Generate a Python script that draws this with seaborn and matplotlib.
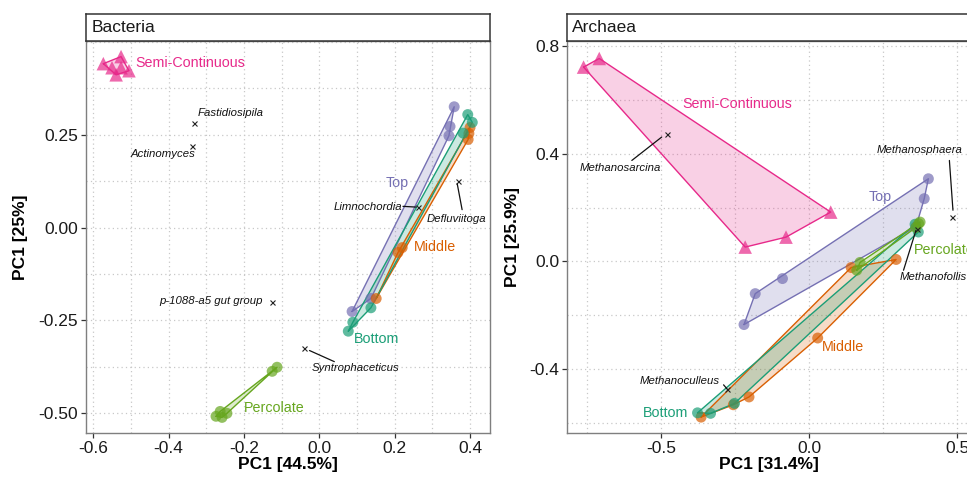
import numpy as np
import pandas as pd
import matplotlib
matplotlib.use("Agg")
import matplotlib.pyplot as plt
import seaborn as sns

# ---------------- data ----------------
groups = ["Semi-Continuous", "Top", "Middle", "Bottom", "Percolate"]
colors = {"Semi-Continuous": "#E7298A", "Top": "#7570B3", "Middle": "#D95F02",
          "Bottom": "#1B9E77", "Percolate": "#66A61E"}

# Bacteria
bac_semi_x = [-0.573, -0.526, -0.539, -0.505, -0.550, -0.526]
bac_semi_y = [0.441, 0.460, 0.411, 0.422, 0.430, 0.430]
bac_top_x = [0.358, 0.347, 0.344, 0.087, 0.137]
bac_top_y = [0.325, 0.272, 0.247, -0.226, -0.191]
bac_middle_x = [0.400, 0.397, 0.395, 0.209, 0.220, 0.151]
bac_middle_y = [0.269, 0.253, 0.237, -0.067, -0.054, -0.191]
bac_bottom_x = [0.394, 0.406, 0.382, 0.077, 0.089, 0.137]
bac_bottom_y = [0.304, 0.283, 0.254, -0.279, -0.255, -0.216]
bac_perc_x = [-0.112, -0.125, -0.263, -0.274, -0.245, -0.258]
bac_perc_y = [-0.376, -0.387, -0.495, -0.508, -0.500, -0.511]

bac_species = ["Fastidiosipila", "Actinomyces", "Limnochordia", "Defluviitoga",
               "p-1088-a5 gut group", "Syntrophaceticus"]
bac_sp_x = [-0.332, -0.337, 0.263, 0.367, -0.126, -0.040]
bac_sp_y = [0.282, 0.220, 0.055, 0.124, -0.201, -0.323]

# Archaea
arc_semi_x = [-0.762, -0.709, 0.073, -0.078, -0.216]
arc_semi_y = [0.722, 0.754, 0.183, 0.090, 0.053]
arc_top_x = [0.403, 0.389, 0.361, -0.090, -0.182, -0.220]
arc_top_y = [0.307, 0.233, 0.128, -0.064, -0.120, -0.235]
arc_middle_x = [0.294, 0.142, 0.029, -0.203, -0.256, -0.365]
arc_middle_y = [0.007, -0.023, -0.285, -0.504, -0.533, -0.579]
arc_bottom_x = [0.369, 0.358, -0.377, -0.333, -0.252]
arc_bottom_y = [0.109, 0.138, -0.563, -0.565, -0.528]
arc_perc_x = [0.375, 0.361, 0.370, 0.172, 0.161]
arc_perc_y = [0.146, 0.126, 0.140, -0.004, -0.033]

arc_species = ["Methanosarcina", "Methanosphaera", "Methanofollis", "Methanoculleus"]
arc_sp_x = [-0.481, 0.484, 0.364, -0.276]
arc_sp_y = [0.475, 0.165, 0.122, -0.476]

# ---------------- layout (label placement) ----------------
bac_group_lab = {"Semi-Continuous": (-0.489, 0.444, "left"), "Top": (0.208, 0.120, "center"),
                 "Middle": (0.307, -0.052, "center"), "Bottom": (0.151, -0.299, "center"),
                 "Percolate": (-0.120, -0.485, "center")}
arc_group_lab = {"Semi-Continuous": (-0.244, 0.583, "center"), "Top": (0.240, 0.239, "center"),
                 "Middle": (0.116, -0.319, "center"), "Bottom": (-0.486, -0.564, "center"),
                 "Percolate": (0.353, 0.041, "left")}
bac_sp_lab = [(-0.324, 0.309, "left"), (-0.329, 0.199, "right"), (0.219, 0.056, "right"),
              (0.364, 0.024, "center"), (-0.149, -0.199, "right"), (-0.020, -0.379, "left")]
bac_sp_seg = [None, None, ((0.222, 0.257), (0.057, 0.055)), ((0.366, 0.379), (0.118, 0.048)),
              None, ((-0.026, 0.040), (-0.331, -0.361))]
arc_sp_lab = [(-0.639, 0.347, "center"), (0.375, 0.413, "center"), (0.307, -0.058, "left"),
              (-0.301, -0.446, "right")]
arc_sp_seg = [((-0.498, -0.599), (0.462, 0.375)), ((0.474, 0.486), (0.375, 0.190)),
              ((0.361, 0.319), (0.115, -0.033)), ((-0.289, -0.278), (-0.459, -0.473))]

# ---------------- style ----------------
sns.set_theme(style="white")
plt.rcParams["font.family"] = ["Liberation Sans", "DejaVu Sans"]

W, H = 967, 478
fig = plt.figure(figsize=(W / 100, H / 100), dpi=100)


def hull(pts):
    pts = sorted(set(map(tuple, pts)))
    if len(pts) < 3:
        return pts

    def cross(o, a, b):
        return (a[0] - o[0]) * (b[1] - o[1]) - (a[1] - o[1]) * (b[0] - o[0])
    lower, upper = [], []
    for p in pts:
        while len(lower) >= 2 and cross(lower[-2], lower[-1], p) <= 0:
            lower.pop()
        lower.append(p)
    for p in reversed(pts):
        while len(upper) >= 2 and cross(upper[-2], upper[-1], p) <= 0:
            upper.pop()
        upper.append(p)
    return lower[:-1] + upper[:-1]


def px_axes(x0, x1, y0, y1):
    return [x0 / W, 1 - y1 / H, (x1 - x0) / W, (y1 - y0) / H]


def panel(rect, strip_rect, title, data, xlim, ylim, xt, xtl, yt, ytl, xminor, yminor,
          xlabel, ylabel, group_lab, sp_names, sp_x, sp_y, sp_lab, sp_seg, ylab_x):
    ax = fig.add_axes(rect)
    df = pd.concat([pd.DataFrame({"x": gx, "y": gy, "group": g}) for g, (gx, gy) in data.items()],
                   ignore_index=True)
    # hulls
    for g, (gx, gy) in data.items():
        h = np.array(hull(list(zip(gx, gy))))
        ax.fill(h[:, 0], h[:, 1], color=colors[g], alpha=0.22, lw=0, zorder=2)
        hc = np.vstack([h, h[:1]])
        ax.plot(hc[:, 0], hc[:, 1], color=colors[g], lw=1.0, zorder=3)
    # points
    pal = {g: colors[g] for g in data}
    mk = {g: ("^" if g == "Semi-Continuous" else "o") for g in data}
    sz = {g: (95 if g == "Semi-Continuous" else 62) for g in data}
    sns.scatterplot(data=df, x="x", y="y", hue="group", style="group", size="group",
                    palette=pal, markers=mk, sizes=sz, alpha=0.7, edgecolor="none",
                    legend=False, ax=ax, zorder=4)
    # group labels
    for g, (lx, ly, ha) in group_lab.items():
        ax.text(lx, ly, g, color=colors[g], fontsize=10.3, ha=ha, va="center", zorder=6)
    # species
    ax.plot(sp_x, sp_y, "x", color="#222222", ms=3.6, mew=0.8, zorder=5)
    for name, (lx, ly, ha), seg in zip(sp_names, sp_lab, sp_seg):
        ax.text(lx, ly, name, fontsize=8.2, style="italic", ha=ha, va="center",
                color="#111111", zorder=6)
        if seg is not None:
            ax.plot(seg[0], seg[1], color="#111111", lw=0.9, zorder=5)
    ax.set_xlim(*xlim)
    ax.set_ylim(*ylim)
    ax.set_xticks(xt)
    ax.set_xticklabels(xtl)
    ax.set_yticks(yt)
    ax.set_yticklabels(ytl)
    ax.set_xticks(xminor, minor=True)
    ax.set_yticks(yminor, minor=True)
    ax.grid(True, which="both", ls=(0, (1, 2.5)), color="#c8c8c8", lw=0.9)
    ax.set_axisbelow(True)
    ax.tick_params(axis="both", which="major", length=3.5, width=0.9, color="#333333",
                   labelsize=12.5, labelcolor="#1a1a1a", pad=2, bottom=True, left=True)
    ax.tick_params(axis="both", which="minor", length=0)
    for s in ax.spines.values():
        s.set_color("#7f7f7f")
        s.set_linewidth(1.0)
    ax.set_xlabel(xlabel, fontsize=12.5, fontweight="bold", color="black")
    ax.set_ylabel(ylabel, fontsize=12.5, fontweight="bold", color="black")
    ax.xaxis.set_label_coords(0.5, -0.062)
    ax.yaxis.set_label_coords(ylab_x, 0.5)
    # strip
    st = fig.add_axes(strip_rect)
    st.set_xticks([])
    st.set_yticks([])
    st.set_facecolor("white")
    for s in st.spines.values():
        s.set_color("#333333")
        s.set_linewidth(1.1)
    st.text(0.013, 0.5, title, transform=st.transAxes,
            fontsize=12.5, ha="left", va="center", color="#1a1a1a")
    return ax


bac = {"Semi-Continuous": (bac_semi_x, bac_semi_y), "Top": (bac_top_x, bac_top_y),
       "Middle": (bac_middle_x, bac_middle_y), "Bottom": (bac_bottom_x, bac_bottom_y),
       "Percolate": (bac_perc_x, bac_perc_y)}
arc = {"Semi-Continuous": (arc_semi_x, arc_semi_y), "Top": (arc_top_x, arc_top_y),
       "Middle": (arc_middle_x, arc_middle_y), "Bottom": (arc_bottom_x, arc_bottom_y),
       "Percolate": (arc_perc_x, arc_perc_y)}

panel(px_axes(86, 490, 41, 433), px_axes(86, 490, 14, 41), "Bacteria", bac,
      (-0.619, 0.453), (-0.553, 0.502),
      [-0.6, -0.4, -0.2, 0.0, 0.2, 0.4], ["-0.6", "-0.4", "-0.2", "0.0", "0.2", "0.4"],
      [-0.5, -0.25, 0.0, 0.25], ["-0.50", "-0.25", "0.00", "0.25"],
      [-0.5, -0.3, -0.1, 0.1, 0.3], [-0.375, -0.125, 0.125, 0.375, 0.5],
      "PC1 [44.5%]", "PC1 [25%]", bac_group_lab, bac_species, bac_sp_x, bac_sp_y,
      bac_sp_lab, bac_sp_seg, -0.144)

panel(px_axes(567, 971, 41, 433), px_axes(567, 971, 14, 41), "Archaea", arc,
      (-0.818, 0.547), (-0.638, 0.819),
      [-0.5, 0.0, 0.5], ["-0.5", "0.0", "0.5"],
      [-0.4, 0.0, 0.4, 0.8], ["-0.4", "0.0", "0.4", "0.8"],
      [-0.75, -0.25, 0.25], [-0.6, -0.2, 0.2, 0.6],
      "PC1 [31.4%]", "PC1 [25.9%]", arc_group_lab, arc_species, arc_sp_x, arc_sp_y,
      arc_sp_lab, arc_sp_seg, -0.116)

fig.savefig("out.png", dpi=100)
